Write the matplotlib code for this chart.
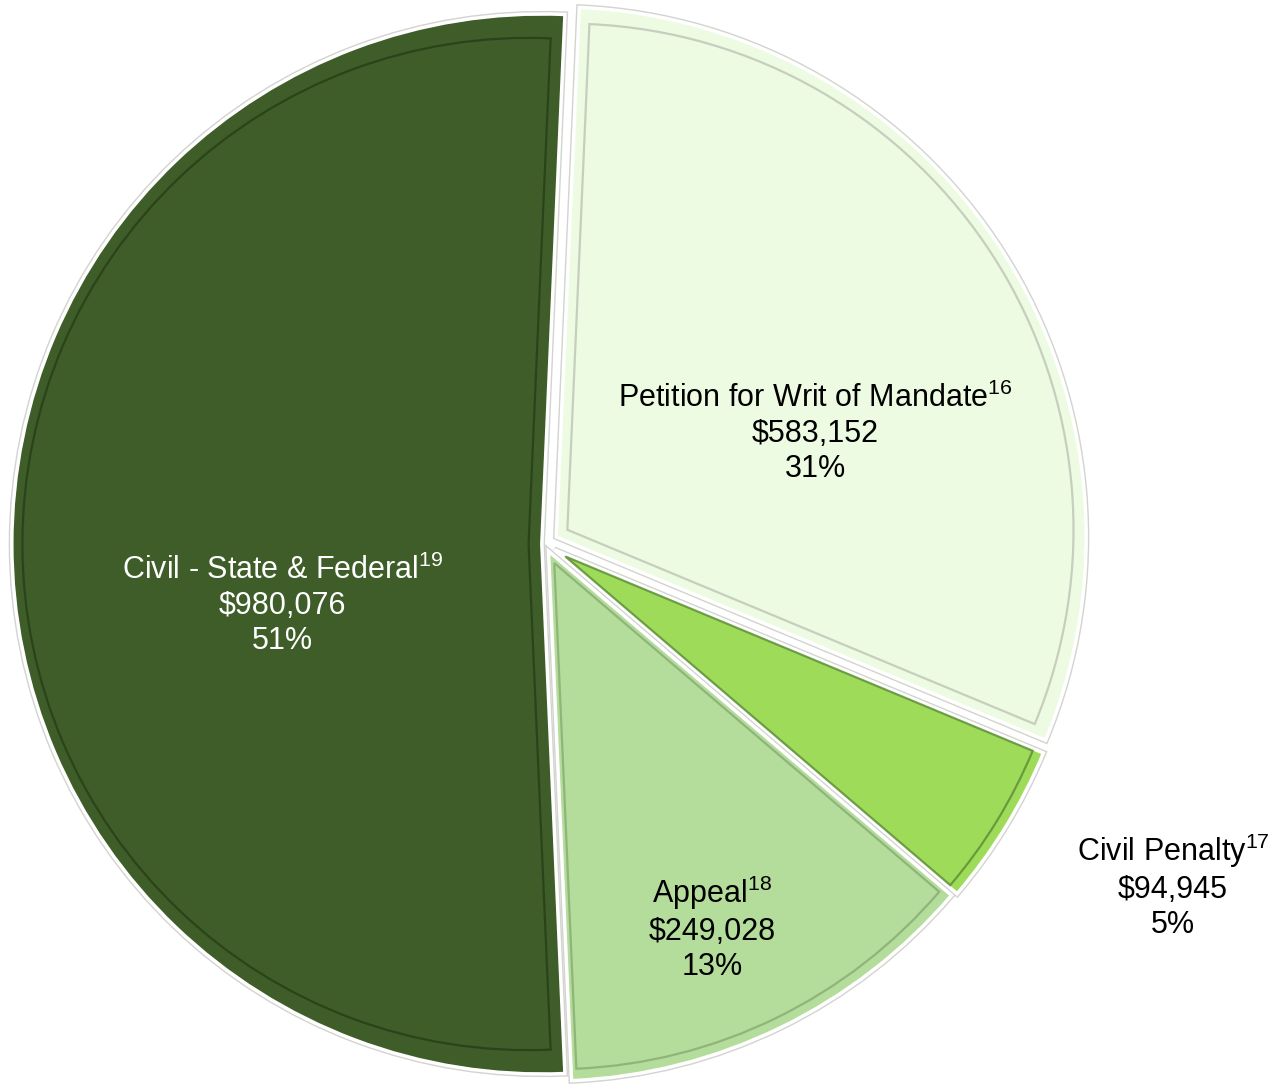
import matplotlib.pyplot as plt

# slices, clockwise from 12 o'clock
names = ["Petition for Writ of Mandate", "Civil Penalty", "Appeal", "Civil - State & Federal"]
notes = ["16", "17", "18", "19"]
amounts = [583152, 94945, 249028, 980076]
colors = ["#EEFBE3", "#9EDB59", "#B4DC9A", "#3E5D28"]
inset_colors = ["#BCC4B4", "#5B8C34", "#86AC72", "#263E17"]
text_colors = ["black", "black", "black", "white"]
explode = [0.025, 0.02, 0.015, 0.006]

plt.rcParams['font.family'] = ['Liberation Sans', 'DejaVu Sans']
plt.rcParams['mathtext.fontset'] = 'custom'
plt.rcParams['mathtext.rm'] = 'Liberation Sans'
plt.rcParams['mathtext.it'] = 'Liberation Sans'

fig = plt.figure(figsize=(12.76, 10.86), dpi=100)
ax = fig.add_axes([0, 0, 1, 1])

start = 87.5

# outer grey rim, then white separators on top
ax.pie(amounts, colors=colors, startangle=start, counterclock=False,
       explode=explode, radius=1.0,
       wedgeprops=dict(edgecolor="#D2D4CF", linewidth=4.5))
ax.pie(amounts, colors=colors, startangle=start, counterclock=False,
       explode=explode, radius=1.0,
       wedgeprops=dict(edgecolor="white", linewidth=2.5))

# bevel line inside each slice
inset, _ = ax.pie(amounts, startangle=start, counterclock=False,
                  explode=[e + 0.025 for e in explode], radius=0.955,
                  wedgeprops=dict(fill=False, linewidth=1.6))
for w, c in zip(inset, inset_colors):
    w.set_edgecolor(c)
    w.set_alpha(0.8)

total = sum(amounts)
label_pos = [(0.51, 0.208), (1.185, -0.645), (0.315, -0.725), (-0.495, -0.115)]
for name, note, amt, tc, (x, y) in zip(names, notes, amounts, text_colors, label_pos):
    pct = round(amt / total * 100)
    ax.text(x, y, f"{name}$^{{{note}}}$\n\\${amt:,}\n{pct}%",
            ha="center", va="center", fontsize=22, color=tc, linespacing=1.22)

r_px = 530
cx, cy = 545, 544
ax.set_xlim(-cx / r_px, (1276 - cx) / r_px)
ax.set_ylim(-(1086 - cy) / r_px, cy / r_px)
ax.set_aspect("equal")
ax.axis("off")

fig.savefig("out.png", dpi=100)
